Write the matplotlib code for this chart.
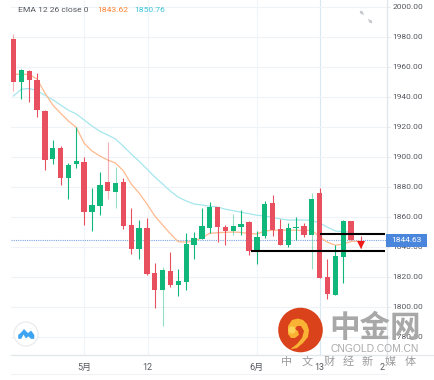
import matplotlib
matplotlib.use("Agg")
import matplotlib.pyplot as plt
from matplotlib.patches import Circle, Polygon, Rectangle

plt.rcParams['font.family'] = ['Roboto', 'Noto Sans CJK SC', 'DejaVu Sans']

# ---------- data ----------
open_ = [1978.3, 1949.8, 1957.3, 1951.0, 1930.7, 1898.5, 1905.8, 1886.0, 1895.3, 1896.5, 1863.0, 1867.3,
         1883.0, 1876.7, 1883.0, 1854.5, 1838.3, 1852.7, 1822.5, 1811.0, 1824.0, 1814.5, 1816.7, 1841.0,
         1845.0, 1852.7, 1866.5, 1853.3, 1850.3, 1853.0, 1856.7, 1836.7, 1847.0, 1869.0, 1851.6, 1841.0,
         1852.3, 1853.8, 1847.6, 1875.6, 1819.8, 1808.0, 1833.0, 1857.0, 1844.9]
close = [1949.8, 1957.8, 1951.0, 1931.3, 1897.6, 1905.6, 1886.0, 1894.3, 1897.0, 1863.0, 1867.8, 1881.0,
         1877.0, 1882.5, 1854.0, 1838.3, 1852.3, 1821.6, 1811.0, 1824.5, 1814.7, 1817.0, 1841.8, 1845.6,
         1853.6, 1866.5, 1853.3, 1850.5, 1853.8, 1855.3, 1837.0, 1846.5, 1868.5, 1851.0, 1841.0, 1852.5,
         1853.3, 1847.6, 1871.8, 1819.0, 1808.3, 1833.8, 1857.3, 1844.5, 1844.6]
high = [1981.8, 1958.5, 1957.8, 1955.6, 1931.0, 1911.0, 1907.3, 1896.0, 1920.0, 1900.0, 1879.0, 1890.0,
        1909.6, 1893.0, 1885.6, 1865.6, 1857.8, 1859.0, 1829.0, 1826.7, 1836.3, 1825.0, 1849.3, 1849.8,
        1865.8, 1869.6, 1866.7, 1854.5, 1861.8, 1864.5, 1857.0, 1850.5, 1870.5, 1874.5, 1858.3, 1855.6,
        1859.6, 1855.6, 1875.6, 1879.0, 1831.8, 1841.0, 1857.8, 1857.0, 1847.3]
low = [1944.0, 1938.7, 1936.7, 1926.7, 1891.0, 1895.0, 1881.0, 1871.8, 1892.7, 1854.5, 1850.5, 1861.0,
       1872.0, 1866.0, 1851.8, 1835.0, 1832.0, 1821.0, 1799.0, 1787.3, 1813.0, 1807.0, 1811.0, 1831.8,
       1845.0, 1849.0, 1843.0, 1841.3, 1847.8, 1848.0, 1834.5, 1828.3, 1846.0, 1847.3, 1841.0, 1840.0,
       1844.5, 1846.3, 1825.0, 1819.0, 1805.0, 1808.0, 1815.6, 1844.5, 1839.0]
ema_fast = [1955.0, 1955.0, 1954.8, 1951.8, 1942.5, 1934.5, 1929.0, 1923.8, 1919.5, 1909.0, 1903.8, 1900.5,
            1897.8, 1895.8, 1890.5, 1881.8, 1875.8, 1868.5, 1860.5, 1854.5, 1848.5, 1843.3, 1843.1, 1843.8,
            1845.8, 1849.0, 1849.3, 1849.6, 1849.8, 1849.5, 1848.8, 1848.5, 1850.5, 1851.0, 1851.0, 1851.0,
            1851.0, 1850.8, 1851.0, 1846.5, 1843.0, 1841.0, 1841.8, 1843.5, 1843.8]
ema_slow = [1940.5, 1945.0, 1945.5, 1944.0, 1941.0, 1938.0, 1934.5, 1931.0, 1928.5, 1924.5, 1920.5, 1917.0,
            1914.5, 1911.8, 1907.0, 1901.8, 1897.0, 1891.8, 1886.5, 1881.8, 1877.0, 1873.0, 1870.5, 1868.5,
            1867.8, 1867.0, 1866.5, 1865.0, 1864.0, 1863.0, 1862.0, 1861.0, 1860.5, 1859.5, 1858.5, 1857.8,
            1857.8, 1857.8, 1857.5, 1855.8, 1853.0, 1850.5, 1850.0, 1849.8]
faded_wicks = [0, 12, 13, 19, 28, 38]
price_ticks = [1780, 1800, 1820, 1840, 1860, 1880, 1900, 1920, 1940, 1960, 1980, 2000]
time_pos = [9, 17.1, 31, 39, 46.9]
time_labels = ['5月', '12', '6月', '13', '2']
last_price = 1844.63
level_upper = 1848.3
level_lower = 1837.0
level_upper_start = 39
level_lower_start = 30.2

# ---------- styles ----------
RED, GREEN = '#e8505f', '#0fb87a'
ORANGE, CYAN = '#ffb98e', '#a5e6ee'
GRID = '#eef3f7'
TXT = '#55585e'

W, H = 435, 380
fig = plt.figure(figsize=(W / 100, H / 100), dpi=100, facecolor='white')
L, R, T, B = 11, 387, 0, 355
ax = fig.add_axes([L / W, (H - B) / H, (R - L) / W, (B - T) / H])
ax.set_xlim(-0.318, 47.58)
ax.set_ylim(1767.8, 2004.5)

for s in ['left', 'top']:
    ax.spines[s].set_visible(False)
ax.spines['bottom'].set_color('#e3e6ea')
ax.spines['bottom'].set_linewidth(1.0)
ax.spines['right'].set_color('#e3e6ea')
ax.spines['right'].set_linewidth(1.0)

ax.yaxis.tick_right()
ax.set_yticks(price_ticks)
ax.set_yticklabels([f'{v:.2f}' for v in price_ticks], fontsize=6.0, color=TXT)
ax.tick_params(axis='y', length=2.5, width=0.7, color='#e3e6ea', pad=1.5)
ax.set_xticks(time_pos)
ax.set_xticklabels(time_labels, fontsize=6.5, color=TXT)
ax.tick_params(axis='x', length=0, pad=5.5)
ax.set_axisbelow(True)
ax.grid(axis='y', color=GRID, lw=0.8)
for i, p in enumerate(time_pos[:-1]):
    ax.axvline(p, color='#d9e8f0' if i == 3 else '#f0f5f9', lw=0.8, zorder=0.5)

# last-price dotted line
ax.axhline(last_price, color='#7fa4e6', lw=0.8, ls=(0, (1, 1)), zorder=1)

# EMA lines
ax.plot(range(len(ema_slow)), ema_slow, color=CYAN, lw=0.9, zorder=2)
ax.plot(range(len(ema_fast)), ema_fast, color=ORANGE, lw=0.9, zorder=2)

# candles
n = len(close)
for i in range(n):
    c = GREEN if close[i] >= open_[i] else RED
    x = i + 0.25 if i == n - 1 else i
    ax.vlines(x, low[i], high[i], color=c if i < n - 1 else RED, lw=0.8,
              alpha=0.45 if i in faded_wicks else 1, zorder=3)
xs = list(range(n))
bottoms = [min(a, b) for a, b in zip(open_, close)]
heights = [abs(a - b) for a, b in zip(open_, close)]
cols = [GREEN if close[i] >= open_[i] else RED for i in range(n)]
ax.bar(xs[:-1], heights[:-1], bottom=bottoms[:-1], width=0.68, color=cols[:-1], zorder=4, lw=0)
ax.plot([xs[-1] + 0.25], [low[-1] + 2.0], marker='v', ms=5.5, color='#f01818', mew=0, zorder=5)

# drawn levels
ax.plot([level_upper_start + 0.1, 47.3], [level_upper, level_upper], color='black', lw=1.5, zorder=6, solid_capstyle='butt')
ax.plot([level_lower_start, 47.3], [level_lower, level_lower], color='black', lw=1.5, zorder=6, solid_capstyle='butt')

# ---------- overlay in pixel coordinates ----------
ov = fig.add_axes([0, 0, 1, 1], facecolor='none')
ov.set_xlim(0, W)
ov.set_ylim(H, 0)
ov.axis('off')

# header
ov.text(18, 10, 'EMA 12 26 close 0', fontsize=6.1, color=TXT, va='center', ha='left')
ov.text(97, 10, '1843.62', fontsize=6.1, color='#ff8436', va='center', ha='left')
ov.text(134, 10, '1850.76', fontsize=6.1, color='#3cc4da', va='center', ha='left')

# second bottom line
ov.plot([11, 387], [374, 374], color='#f0f2f4', lw=0.8)
ov.plot([387, 435], [355, 355], color='#e3e6ea', lw=0.8)

# price tag
ov.add_patch(Rectangle((386, 233.5), 41, 13, color='#4a86dc', lw=0, zorder=7))
ov.text(406.5, 240, f'{last_price:.2f}', color='white', fontsize=6.0, ha='center', va='center', zorder=8)

# expand icon
for (x0, y0, x1, y1) in [(363.5, 14.5, 359.5, 10.5), (368.5, 19.5, 372.5, 23.5)]:
    ov.annotate('', xy=(x1, y1), xytext=(x0, y0),
                arrowprops=dict(arrowstyle='-|>', color='#c4c7cb', lw=0.8, mutation_scale=4, shrinkA=0, shrinkB=0))

# round cloud badge
ov.add_patch(Circle((26, 334), 12, fc='white', ec='#e9ebee', lw=0.9, zorder=7))
ov.add_patch(Polygon([(18.5, 338.5), (18.5, 335), (21, 333), (24, 329.5), (28, 333.5), (31, 331), (34, 335),
                      (34, 338.5), (31, 338.5), (28.5, 336), (26, 338), (23.5, 334), (21, 338.5)],
                     closed=True, fc='#3ba3f2', ec='#3ba3f2', lw=0.4, zorder=8))

# watermark logo
ov.add_patch(Circle((300.5, 330), 22.3, fc='#d9421a', ec='none', zorder=9))
ov.add_patch(Polygon([(288, 334), (288, 326), (292, 320), (298, 318.5), (303, 320), (307, 324), (309, 330),
                      (308, 337), (303, 343), (297, 348), (290, 349.5), (297, 344), (302, 338), (304, 331),
                      (301, 326), (297, 326), (295, 329), (298, 331), (299, 335), (295, 338), (291, 338)],
                     closed=True, fc='#f9b233', ec='none', zorder=10))
ov.add_patch(Circle((292, 330), 3.6, fc='#fdd35a', ec='none', zorder=10))

ov.text(375, 327.5, '中金网', fontsize=22, color='#a8a8a8', fontweight='bold', ha='center', va='center',
        family=['Noto Sans CJK SC'], zorder=9)
ov.text(375, 349, 'CNGOLD.COM.CN', fontsize=7.4, color='#ababab', ha='center', va='center',
        family=['Liberation Sans'], zorder=9)
for cx, ch in zip([287, 307, 329, 348, 367, 390, 410], '中文财经新媒体'):
    ov.text(cx, 362, ch, fontsize=8, color='#9c9c9c', ha='center', va='center',
            family=['Noto Sans CJK SC'], zorder=9)

fig.savefig('out.png', dpi=100)
